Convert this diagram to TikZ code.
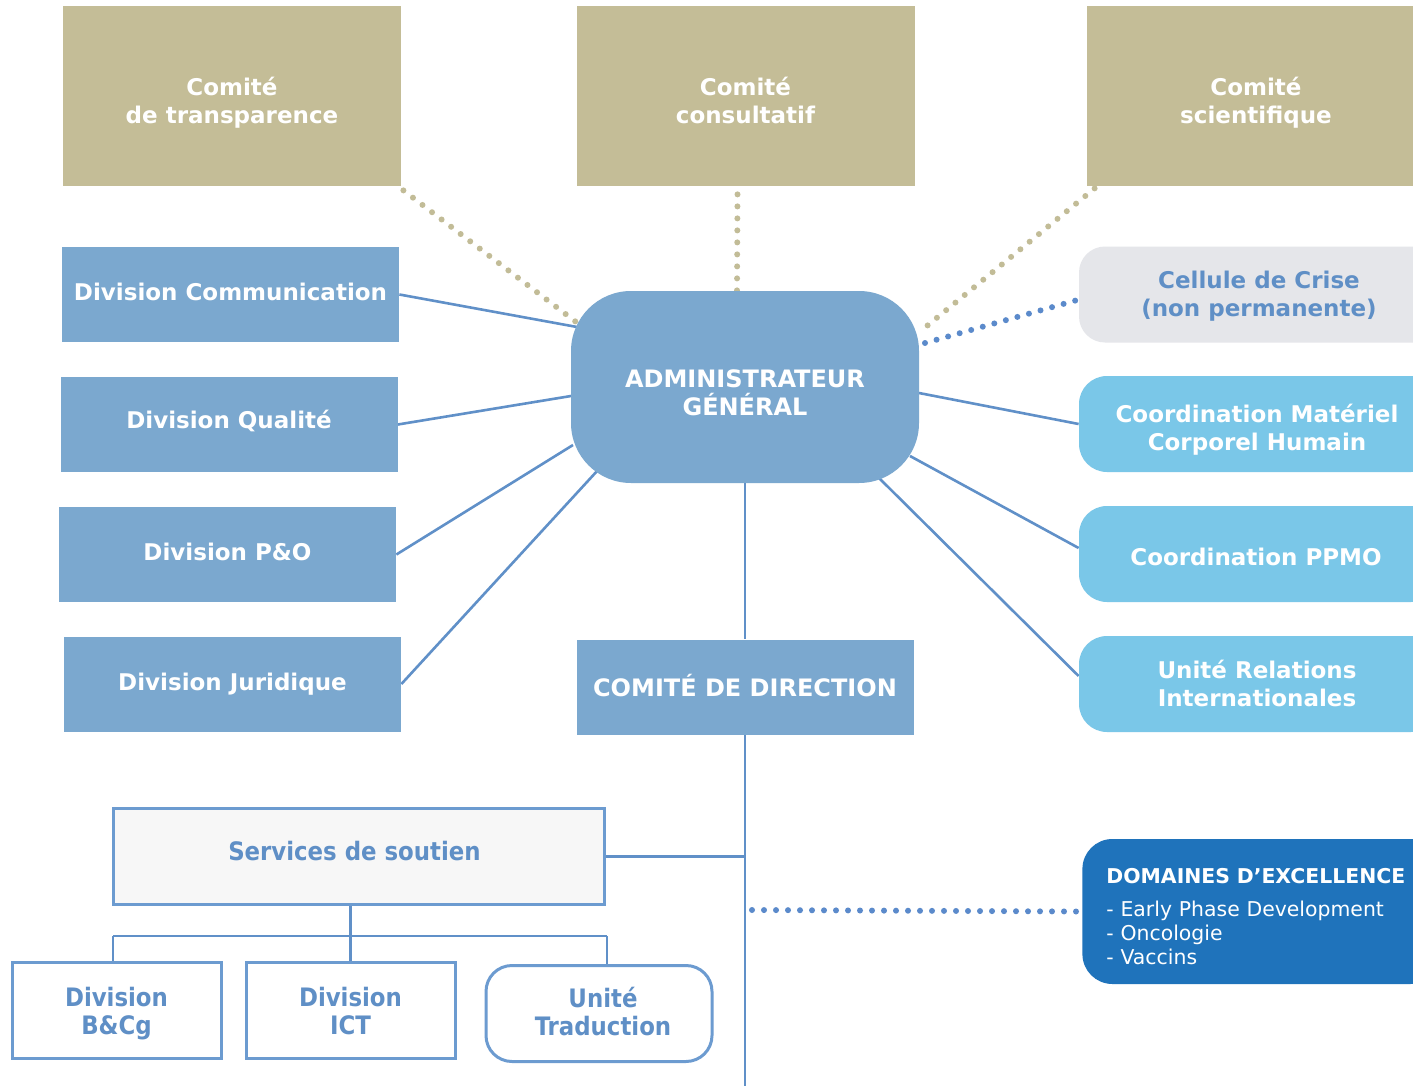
\documentclass[tikz,border=0pt]{standalone}
\usepackage{fontspec}
\setmainfont{DejaVu Sans}
\newfontfamily\condf{DejaVu Sans Condensed}
\usetikzlibrary{backgrounds,calc}
\definecolor{tanc}{HTML}{C4BD97}
\definecolor{divc}{HTML}{7BA8CF}
\definecolor{cyanc}{HTML}{7AC7E8}
\definecolor{greyc}{HTML}{E5E6EA}
\definecolor{domc}{HTML}{1F73BB}
\definecolor{linec}{HTML}{6090C8}
\definecolor{edgec}{HTML}{6C9BD0}
\definecolor{subtext}{HTML}{5F8FC6}
\definecolor{bluedot}{HTML}{5B8ACB}
\definecolor{tandot}{HTML}{C2BC97}
\tikzset{
  lt/.style={inner sep=0pt, align=center, text=white, font=\bfseries\fontsize{11.5}{14}\selectfont},
  ltc/.style={lt, font=\bfseries\fontsize{12}{14}\selectfont},
  lts/.style={inner sep=0pt, align=center, text=subtext, font=\condf\bfseries\fontsize{12.7}{14}\selectfont},
  shape0/.style={inner sep=0pt},
  tanbox/.style={shape0, fill=tanc, minimum width=169pt, minimum height=90pt},
  divbox/.style={shape0, fill=divc, minimum width=168.5pt, minimum height=47.5pt},
  cyanbox/.style={shape0, fill=cyanc, rounded corners=14pt, minimum width=180pt, minimum height=48pt},
  subbox/.style={shape0, draw=edgec, line width=1.5pt, fill=white, minimum height=48pt},
  link/.style={draw=linec, line width=1.3pt},
  tandots/.style={draw=tandot, line width=3pt, line cap=round, dash pattern=on 0pt off 6pt},
  bluedots/.style={draw=bluedot, line width=3pt, line cap=round, dash pattern=on 0pt off 6pt},
}
\begin{document}
\begin{tikzpicture}[x=0.5pt,y=-0.5pt]
\useasboundingbox (0,0) rectangle (1413,1086);
% top committees
\node[tanbox, label={[lt, yshift=-3.5pt]center:{Comité\\de transparence}}] (tr) at (232,96) {};
\node[tanbox, label={[lt, yshift=-2pt]center:{Comité\\consultatif}}] (cc) at (745.5,96) {};
\node[tanbox, label={[lt, yshift=-3.5pt]center:{Comité\\scientifique}}] (cs) at (1256,96) {};
% left divisions
\node[divbox, label={[lt, yshift=1.5pt]center:{Division Communication}}] (com) at (230.5,294.5) {};
\node[divbox, label={[lt, yshift=2pt]center:{Division Qualité}}] (qual) at (229,424.5) {};
\node[divbox, label={[lt, yshift=1.5pt]center:{Division P\&O}}] (po) at (227.5,554.5) {};
\node[divbox, label={[lt]center:{Division Juridique}}] (jur) at (232.5,684) {};
% centre
\node[shape0, fill=divc, rounded corners=30pt, minimum width=174pt, minimum height=96pt,
      label={[ltc, yshift=-3pt]center:{ADMINISTRATEUR\\GÉNÉRAL}}] (ag) at (745,387) {};
\node[divbox, label={[ltc, yshift=0.5pt]center:{COMITÉ DE DIRECTION}}] (cdd) at (745,687) {};
% right
\node[cyanbox, fill=greyc, rounded corners=13pt,
      label={[lt, text=subtext, yshift=-0.75pt]center:{Cellule de Crise\\(non permanente)}}] (cel) at (1259,294.5) {};
\node[cyanbox, label={[lt, yshift=-3pt, xshift=-1pt]center:{Coordination Matériel\\Corporel Humain}}] (cmh) at (1259,424) {};
\node[cyanbox, label={[lt, yshift=-1.5pt, xshift=-1.5pt]center:{Coordination PPMO}}] (ppmo) at (1259,554) {};
\node[cyanbox, label={[lt, yshift=0.5pt, xshift=-1pt]center:{Unité Relations\\Internationales}}] (uri) at (1259,684) {};
\node[shape0, fill=domc, rounded corners=15pt, anchor=west, minimum width=179pt, minimum height=72.5pt,
      label={[inner sep=0pt, text=white, text width=155pt, align=left, yshift=-2.5pt,
              font=\fontsize{10.2}{12}\selectfont]center:{{\bfseries DOMAINES D’EXCELLENCE}\\[4.5pt]- Early Phase Development\\- Oncologie\\- Vaccins}}] (dom) at (1082,911.5) {};
% support services
\node[subbox, fill=white!97!black, minimum width=245.5pt,
      label={[lts, yshift=2.5pt, xshift=-2pt]center:{Services de soutien}}] (serv) at (358.5,856.5) {};
\node[subbox, minimum width=104.5pt, label={[lts, yshift=-2pt]center:{Division\\B\&Cg}}] (bcg) at (116.5,1010) {};
\node[subbox, minimum width=104.5pt, label={[lts, yshift=-0.5pt]center:{Division\\ICT}}] (ict) at (350.5,1010) {};
\node[subbox, minimum width=113pt, rounded corners=13pt, label={[lts, yshift=1pt, xshift=2pt]center:{Unité\\Traduction}}] (trad) at (599,1013.5) {};
\coordinate (bottom) at (745,1090);
\coordinate (dstart) at (752,910);
\coordinate (bcgin) at (113,962);
\coordinate (tradin) at (607,965);
\begin{pgfonlayer}{background}
  \fill[white] (0,0) rectangle (1413,1086);
  % solid links
  \draw[link] (com.east) -- ($(ag.center)+(-168,-60)$);
  \draw[link] (qual.east) -- ($(ag.center)+(-174,9)$);
  \draw[link] (po.east) -- ($(ag.center)+(-172,58)$);
  \draw[link] (jur.east) -- ($(ag.center)+(-147,83)$);
  \draw[link] ($(ag.center)+(174,6)$) -- (cmh.west);
  \draw[link] ($(ag.center)+(165,69)$) -- ($(ppmo.west)+(0,-6)$);
  \draw[link] ($(ag.center)+(132,89)$) -- ($(uri.west)+(0,-8)$);
  \draw[link] (ag.south) -- (cdd.north);
  \draw[link] (cdd.south) -- (bottom);
  \draw[link] (serv.east) -- (serv.east -| bottom);
  \draw[link] (serv.south -| ict.north) -- ++(0,30) coordinate (bar);
  \draw[link] (bcgin |- bar) -- (tradin |- bar);
  \draw[link] (bcgin |- bar) -- (bcgin);
  \draw[link] (ict.north |- bar) -- (ict.north);
  \draw[link] (tradin |- bar) -- (tradin);
  % dotted links
  \draw[tandots] ($(tr.south east)+(2,4)$) -- ($(ag.center)+(-165,-62)$);
  \draw[tandots] ($(cc.south)+(-8,8)$) -- ($(ag.north)+(-8,0)$);
  \draw[tandots] ($(cs.south west)+(8,2)$) -- ($(ag.center)+(177,-57)$);
  \draw[bluedots] ($(ag.center)+(180,-44)$) -- ($(cel.west)+(-3,6)$);
  \draw[bluedots] (dstart) -- ($(dom.west)+(-6,0)$);
\end{pgfonlayer}
\end{tikzpicture}
\end{document}
